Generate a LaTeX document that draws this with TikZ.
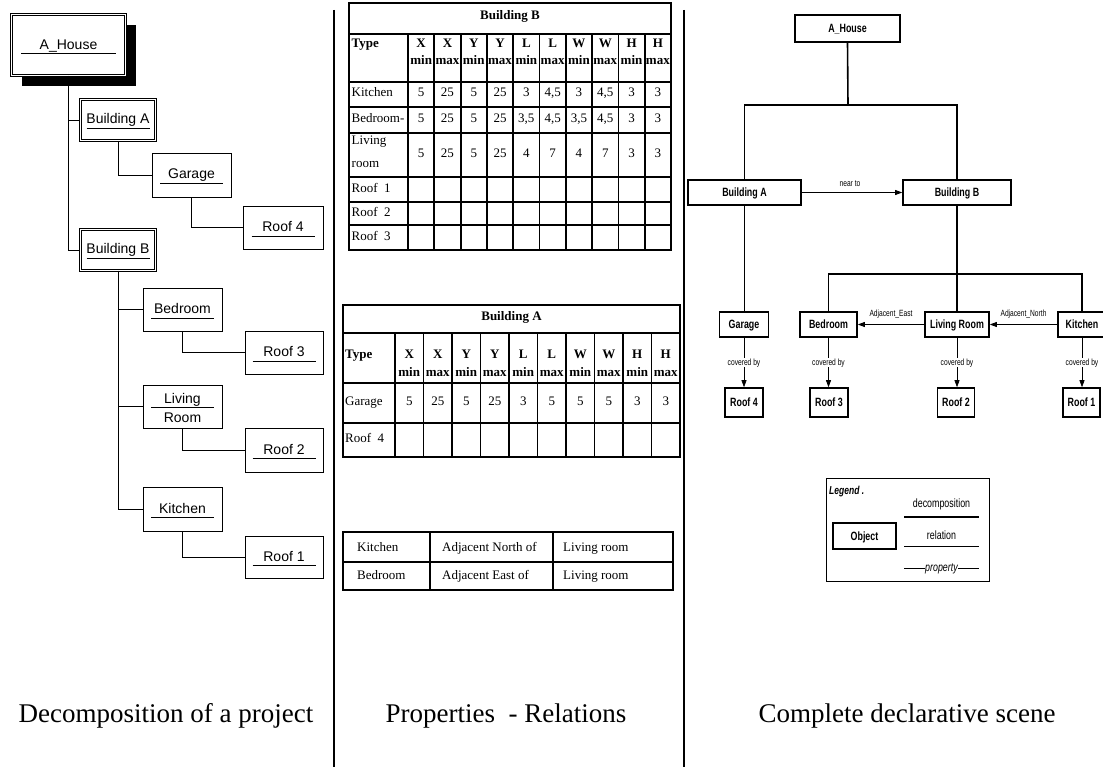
\documentclass[tikz,border=0pt]{standalone}
\usepackage{fontspec}
\setmainfont{Liberation Serif}
\newfontfamily\arialf{Liberation Sans}
\newfontfamily\narrowf[FakeStretch=0.74]{Liberation Sans}
\usetikzlibrary{calc,shadows,arrows.meta}

\newcommand\lfont{\arialf\fontsize{14}{16}\selectfont}
\newcommand\tfont{\fontsize{13}{15}\selectfont}
\newcommand\rfont{\narrowf\bfseries\fontsize{12}{14}\selectfont}
\newcommand\rsmall{\narrowf\fontsize{9}{10}\selectfont}
\newcommand\capfont{\fontsize{27}{30}\selectfont}

\tikzset{
  % left tree
  lbox/.style={draw, line width=0.8pt, fill=white, inner sep=0pt},
  dbox/.style={lbox, double, double distance=1.6pt},
  ltext/.style={font=\lfont, inner sep=0pt, text height=10pt, text depth=0pt},
  uline/.style={line width=0.8pt},
  lconn/.style={line width=0.8pt},
  % tables
  tline/.style={line width=1.8pt},
  tcell/.style={font=\tfont, inner sep=0pt, text height=8.6pt, text depth=0pt},
  thead/.style={tcell, font=\tfont\bfseries},
  % right scene
  robj/.style={draw, line width=1.6pt, fill=white, inner sep=0pt, font=\rfont,
    text height=8.6pt, text depth=0pt},
  dec/.style={line width=1.6pt},
  rel/.style={line width=0.7pt, -{Triangle[length=7pt,width=5pt]}},
  rlab/.style={font=\rsmall, inner sep=1pt, text height=6.5pt, text depth=0pt},
  lg/.style={font=\narrowf\fontsize{12}{14}\selectfont, inner sep=0pt, text height=8.6pt, text depth=0pt},
  sepline/.style={line width=2pt},
  caption/.style={font=\capfont, anchor=base, inner sep=0pt},
}

\begin{document}
\begin{tikzpicture}[x=1pt, y=-1pt]
\useasboundingbox (0,0) rectangle (1103,767);

% ---------------- project decomposition ----------------
\node[dbox, minimum width=114, minimum height=61,
  drop shadow={shadow xshift=10pt, shadow yshift=-11pt, fill=black, opacity=1}] (lHouse) at (68.5,45) {};
\node[dbox, minimum width=75, minimum height=41] (lBA) at (118,120) {};
\node[lbox, minimum width=79, minimum height=44] (lGar) at (191.5,175) {};
\node[lbox, minimum width=80, minimum height=43] (lR4) at (283,227.5) {};
\node[dbox, minimum width=75, minimum height=41] (lBB) at (118,250) {};
\node[lbox, minimum width=79, minimum height=43] (lBed) at (182.5,309.5) {};
\node[lbox, minimum width=78, minimum height=43] (lR3) at (284,352.5) {};
\node[lbox, minimum width=79, minimum height=43] (lLiv) at (182.5,406.5) {};
\node[lbox, minimum width=78, minimum height=44] (lR2) at (284,450) {};
\node[lbox, minimum width=79, minimum height=44] (lKit) at (182.5,509) {};
\node[lbox, minimum width=78, minimum height=42] (lR1) at (284,557) {};

\draw[lconn] (lHouse.south) |- (lBA.west);
\draw[lconn] (lHouse.south) |- (lBB.west);
\draw[lconn] (lBA.south) |- (lGar.west);
\draw[lconn] (lGar.south) |- (lR4.west);
\draw[lconn] (lBB.south) |- (lBed.west);
\draw[lconn] (lBB.south) |- (lLiv.west);
\draw[lconn] (lBB.south) |- (lKit.west);
\draw[lconn] (lBed.south) |- (lR3.west);
\draw[lconn] (lLiv.south) |- (lR2.west);
\draw[lconn] (lKit.south) |- (lR1.west);

\node[ltext] (lHouse-t) at ($(lHouse.center)+(0,0)$) {A\_House};
\draw[uline] ($(lHouse.center)+(-47.5,8)$) -- ($(lHouse.center)+(47.5,8)$);
\foreach \n/\t in {lBA/Building A, lGar/Garage, lR4/Roof 4, lBB/Building B,
                   lBed/Bedroom, lR3/Roof 3, lKit/Kitchen, lR2/Roof 2, lR1/Roof 1} {
  \node[ltext] (\n-t) at ($(\n.center)+(0,-1)$) {\t};
  \draw[uline] ($(\n.center)+(-31.5,8.5)$) -- ($(\n.center)+(31.5,8.5)$);
}
\node[ltext] (lLiv-t1) at ($(lLiv.center)+(0,-8.5)$) {Living};
\draw[uline] ($(lLiv.center)+(-31.5,0.5)$) -- ($(lLiv.center)+(31.5,0.5)$);
\node[ltext] (lLiv-t2) at ($(lLiv.center)+(0,10.5)$) {Room};

% ---------------- property tables ----------------
% Building B
\draw[tline] (349,3.3) rectangle (671,250);
\foreach \y in {34.3,81.7,106.7,132.7,176.7,201.7,225}
  \draw[tline] (349,\y) -- (671,\y);
\foreach \k in {0,...,9}
  \draw[tline] ({408+\k*26.3},34.3) -- ({408+\k*26.3},250);
\node[thead] (bTitle) at (510,15) {Building B};
\node[thead, anchor=west] (bType) at (351.5,43) {Type};
\foreach \a/\b [count=\i from 0] in {X/min,X/max,Y/min,Y/max,L/min,L/max,W/min,W/max,H/min,H/max} {
  \node[thead] (bHa-\i) at ({408+(\i+0.5)*26.3},43) {\a};
  \node[thead] (bHb-\i) at ({408+(\i+0.5)*26.3},60) {\b};
}
\node[tcell, anchor=west] (bKit) at (351.5,92) {Kitchen};
\foreach \v [count=\i from 0] in {5,25,5,25,3,{4,5},3,{4,5},3,3}
  \node[tcell] (bKv-\i) at ({408+(\i+0.5)*26.3},92) {\v};
\node[tcell, anchor=west] (bBed) at (351.5,118) {Bedroom-};
\foreach \v [count=\i from 0] in {5,25,5,25,{3,5},{4,5},{3,5},{4,5},3,3}
  \node[tcell] (bBv-\i) at ({408+(\i+0.5)*26.3},118) {\v};
\node[tcell, anchor=west] (bLiv1) at (351.5,140) {Living};
\node[tcell, anchor=west] (bLiv2) at (351.5,163.5) {room};
\foreach \v [count=\i from 0] in {5,25,5,25,4,7,4,7,3,3}
  \node[tcell] (bLv-\i) at ({408+(\i+0.5)*26.3},153) {\v};
\node[tcell, anchor=west] (bR1) at (351.5,188) {Roof~~1};
\node[tcell, anchor=west] (bR2) at (351.5,212) {Roof~~2};
\node[tcell, anchor=west] (bR3) at (351.5,236) {Roof~~3};

% Building A
\draw[tline] (343,305) rectangle (680,457);
\foreach \y in {333,383,423}
  \draw[tline] (343,\y) -- (680,\y);
\foreach \k in {0,...,9}
  \draw[tline] ({395+\k*28.5},333) -- ({395+\k*28.5},457);
\node[thead] (aTitle) at (511.5,316) {Building A};
\node[thead, anchor=west] (aType) at (345,354) {Type};
\foreach \a/\b [count=\i from 0] in {X/min,X/max,Y/min,Y/max,L/min,L/max,W/min,W/max,H/min,H/max} {
  \node[thead] (aHa-\i) at ({395+(\i+0.5)*28.5},354) {\a};
  \node[thead] (aHb-\i) at ({395+(\i+0.5)*28.5},372) {\b};
}
\node[tcell, anchor=west] (aGar) at (345,401) {Garage};
\foreach \v [count=\i from 0] in {5,25,5,25,3,5,5,5,3,3}
  \node[tcell] (aGv-\i) at ({395+(\i+0.5)*28.5},401) {\v};
\node[tcell, anchor=west] (aR4) at (345,438) {Roof~~4};

% relations
\draw[tline] (343,532) rectangle (673,590);
\draw[tline] (343,562) -- (673,562);
\draw[tline] (430,532) -- (430,590);
\draw[tline] (553,532) -- (553,590);
\node[tcell, anchor=west] (r1a) at (357,547) {Kitchen};
\node[tcell, anchor=west] (r1b) at (442,547) {Adjacent North of};
\node[tcell, anchor=west] (r1c) at (563,547) {Living room};
\node[tcell, anchor=west] (r2a) at (357,575) {Bedroom};
\node[tcell, anchor=west] (r2b) at (442,575) {Adjacent East of};
\node[tcell, anchor=west] (r2c) at (563,575) {Living room};

% ---------------- declarative scene ----------------
\node[robj, minimum width=105, minimum height=27] (rHouse) at (847.5,28.5) {A\_House};
\node[robj, minimum width=113, minimum height=25] (rBA) at (744.5,192.5) {Building A};
\node[robj, minimum width=108, minimum height=25] (rBB) at (957,192.5) {Building B};
\node[robj, minimum width=49, minimum height=25] (rGar) at (744,324.5) {Garage};
\node[robj, minimum width=57, minimum height=25] (rBed) at (828.5,324.5) {Bedroom};
\node[robj, minimum width=64, minimum height=25] (rLiv) at (957,324.5) {Living Room};
\node[robj, minimum width=48, minimum height=25] (rKit) at (1082,324.5) {Kitchen};
\node[robj, minimum width=38, minimum height=29] (rR4) at (744,402.5) {Roof 4};
\node[robj, minimum width=38, minimum height=29] (rR3) at (829,402.5) {Roof 3};
\node[robj, minimum width=37, minimum height=29] (rR2) at (956,402.5) {Roof 2};
\node[robj, minimum width=37, minimum height=29] (rR1) at (1081.5,402.5) {Roof 1};

\coordinate (jTop) at (848,105);
\coordinate (jB) at (957,274);
\draw[dec] (rHouse.south) -- (jTop);
\draw[dec] (rBA.north) |- (jTop) -| (rBB.north);
\draw[dec] (rBA.south) -- (rBA.south |- rGar.north);
\draw[dec] (rBB.south) -- (rLiv.north);
\draw[dec] (rBed.north) |- (jB) -| (rKit.north);

\draw[rel] (rBA.east) -- (rBB.west) node[rlab, pos=0.48, yshift=9.5pt] (lNear) {near to};
\draw[rel] (rLiv.west) -- (rBed.east) node[rlab, midway, yshift=11.5pt] (lEast) {Adjacent\_East};
\draw[rel] (rKit.west) -- (rLiv.east) node[rlab, midway, yshift=11.5pt] (lNorth) {Adjacent\_North};
\foreach \a/\b in {rGar/rR4, rBed/rR3, rLiv/rR2, rKit/rR1}
  \draw[rel] (\a.south) -- (\a.south |- \b.north) node[rlab, midway, fill=white, inner sep=1.5pt] (\a-cov) {covered by};

% legend
\node[draw, line width=1pt, minimum width=163, minimum height=103, inner sep=0pt] (leg) at (907.5,529.5) {};
\node[font=\narrowf\bfseries\itshape\fontsize{11.5}{13}\selectfont, anchor=west, inner sep=0pt] (legT) at (829,492) {Legend .};
\node[robj, minimum width=63, minimum height=26] (legObj) at (864.5,536) {Object};
\node[lg] (legDec) at (941.5,503) {decomposition};
\draw[dec] (904,517) -- (979,517);
\node[lg] (legRel) at (941.5,535) {relation};
\draw[line width=0.7pt] (904,546) -- (979,546);
\draw[line width=0.7pt] (904,568) -- (979,568);
\node[lg, font=\narrowf\itshape\fontsize{12}{14}\selectfont, fill=white, inner sep=0.5pt] (legProp) at (941.5,567) {property};

% ---------------- separators and captions ----------------
\draw[sepline] (334,10) -- (334,767);
\draw[sepline] (684,10) -- (684,767);
\node[caption] (capL) at (166,722) {Decomposition of a project};
\node[caption] (capM) at (506,722) {Properties~ - Relations};
\node[caption] (capR) at (907,722) {Complete declarative scene};
\end{tikzpicture}
\end{document}
